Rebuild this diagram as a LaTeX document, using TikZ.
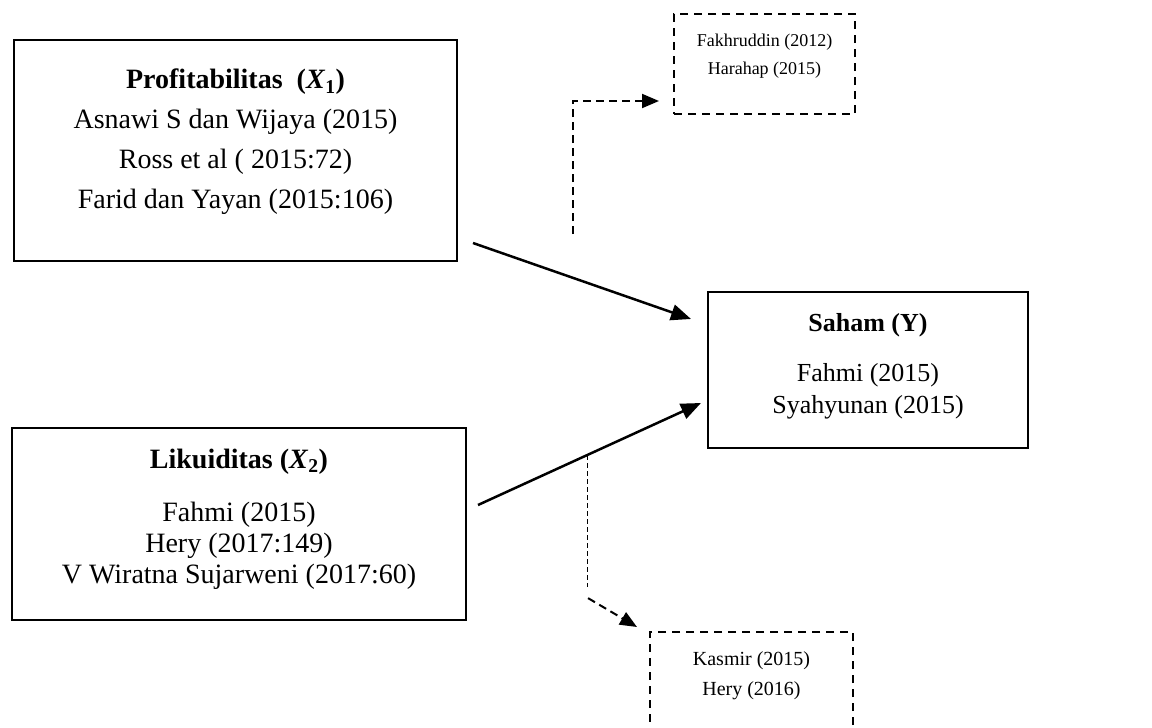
\documentclass[tikz,border=0pt]{standalone}
\usepackage{fontspec}
\setmainfont{Liberation Serif}
\usetikzlibrary{arrows.meta,calc}
\begin{document}
\begin{tikzpicture}[x=1pt,y=-1pt,
  solidbox/.style={draw, line width=2pt, rectangle, inner sep=0pt},
  dashbox/.style={draw, line width=2pt, dash pattern=on 8pt off 6pt, rectangle, inner sep=0pt},
  txt/.style={align=center, inner sep=0pt},
  arr/.style={line width=2.5pt, -{Triangle[length=20pt,width=16pt]}},
  darr/.style={line width=2pt, dash pattern=on 8pt off 5pt, -{Triangle[length=17pt,width=14pt]}},
  thinline/.style={line width=0.9pt, dash pattern=on 5pt off 3pt},
]
\useasboundingbox (0,0) rectangle (1152,728);

% boxes
\node[solidbox, minimum width=443pt, minimum height=221pt] (P) at (235.5,150.5) {};
\node[solidbox, minimum width=454pt, minimum height=192pt] (L) at (239,524) {};
\node[solidbox, minimum width=320pt, minimum height=156pt] (S) at (868,370) {};
\node[dashbox, minimum width=181pt, minimum height=100pt] (F) at (764.5,64) {};
\node[dashbox, minimum width=203pt, minimum height=128pt] (K) at (751.5,696) {};

% texts
\node[txt, font=\fontsize{28}{40}\selectfont] (Pt) at (235.5,142)
  {\textbf{Profitabilitas\ \ (\textit{X}\textsubscript{1})}\\
   Asnawi S dan Wijaya (2015)\\ Ross et al ( 2015:72)\\ Farid dan Yayan (2015:106)};
\node[txt, font=\fontsize{28}{31}\selectfont] (Lt) at (239,519)
  {\textbf{Likuiditas (\textit{X}\textsubscript{2})}\\[22pt]
   Fahmi (2015)\\ Hery (2017:149)\\ V Wiratna Sujarweni (2017:60)};
\node[txt, font=\fontsize{26}{32}\selectfont] (St) at (868,366)
  {\textbf{Saham (Y)}\\[18pt] Fahmi (2015)\\ Syahyunan (2015)};
\node[txt, font=\fontsize{18}{28}\selectfont] (Ft) at (764.5,56)
  {Fakhruddin (2012)\\ Harahap (2015)};
\node[txt, font=\fontsize{20}{30}\selectfont] (Kt) at (751.5,676)
  {Kasmir (2015)\\ Hery (2016)};

% connectors
\draw[arr] ($(P.south east)+(15,-19)$) -- ($(S.north west)+(-16,28)$);
\draw[arr] ($(L.north east)+(11,78)$) -- coordinate[pos=0.489] (m) ($(S.south west)+(-6,-46)$);
\draw[thinline] (m) -- ++(0,132) coordinate (m2);
\coordinate (d1) at ($(m2)+(1,11)$);
\draw[darr] (d1) -- ($(K.north west)+(-12,-4)$);
\coordinate (u1) at (573,234);
\draw[darr] (u1) |- ($(F.south west)+(-14,-14)$);
\end{tikzpicture}
\end{document}
